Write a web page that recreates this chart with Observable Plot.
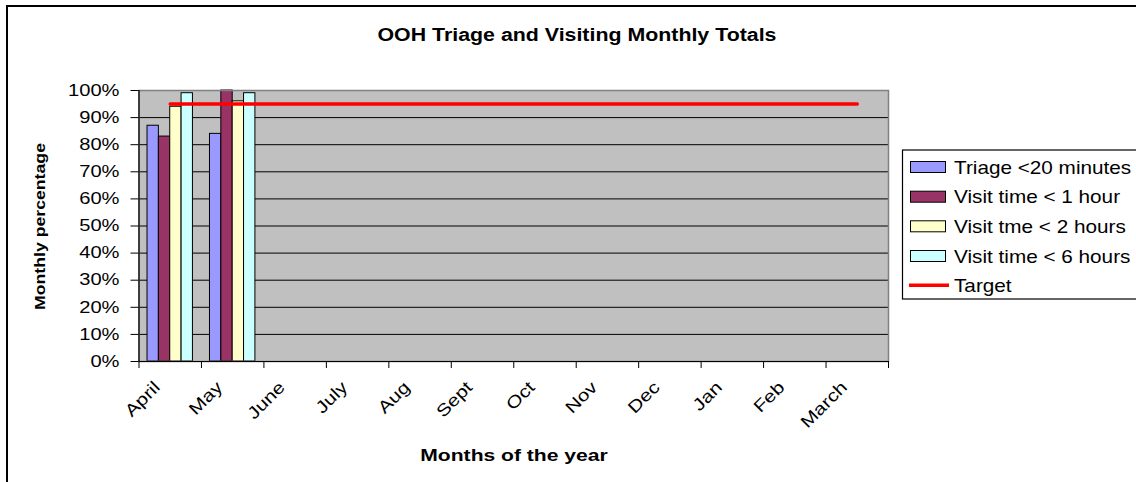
<!DOCTYPE html>
<html><head><meta charset="utf-8">
<script src="https://cdn.jsdelivr.net/npm/d3@7"></script>
<script src="https://cdn.jsdelivr.net/npm/@observablehq/plot@0.6"></script>
<style>
html,body{margin:0;padding:0;background:#fff;overflow:hidden;}
#wrap{position:relative;width:1136px;height:482px;overflow:hidden;background:#fff;}
#wrap > svg{position:absolute;left:0;top:0;}
</style></head><body><div id="wrap"></div>
<script>
// ---- data ----
const months = ["April","May","June","July","Aug","Sept","Oct","Nov","Dec","Jan","Feb","March"];
const series = ["Triage <20 minutes","Visit time < 1 hour","Visit tme < 2 hours","Visit time < 6 hours"];
const seriesColors = ["#9999FF","#993366","#FFFFCC","#CCFFFF"];
const triage20   = [87, 84, null, null, null, null, null, null, null, null, null, null];
const visit1h    = [83, 100, null, null, null, null, null, null, null, null, null, null];
const visit2h    = [94, 96, null, null, null, null, null, null, null, null, null, null];
const visit6h    = [99, 99, null, null, null, null, null, null, null, null, null, null];
const target     = [95, 95, 95, 95, 95, 95, 95, 95, 95, 95, 95, 95];
const targetLabel = "Target";
const yTicks = [0, 10, 20, 30, 40, 50, 60, 70, 80, 90, 100];
const title = "OOH Triage and Visiting Monthly Totals";
const xTitle = "Months of the year";
const yTitle = "Monthly percentage";

const seriesValues = [triage20, visit1h, visit2h, visit6h];
const bars = [];
months.forEach((m, i) => seriesValues.forEach((vals, k) => {
  if (vals[i] != null) bars.push({month: m, i, k, series: series[k], value: vals[i]});
}));
// Excel-style clustered columns: gap width 150% -> group of 4 bars + 1.5 bar gap per category
const slot = 5.5;
const monthIdx = months.map((_, i) => i);
const boundaries = monthIdx.concat([months.length]);
const centers = monthIdx.map(i => i + 0.5);

const FONT = "'Liberation Sans', Arial, Helvetica, sans-serif";

const chart = Plot.plot({
  width: 900, height: 482,
  marginLeft: 138.5, marginRight: 12, marginTop: 90, marginBottom: 121,
  x: {domain: [0, months.length], axis: null},
  y: {domain: [0, 100], axis: null},
  color: {domain: series, range: seriesColors},
  style: {fontFamily: FONT, fontSize: "16px", color: "#000", background: "transparent", overflow: "visible"},
  marks: [
    Plot.frame({fill: "#C0C0C0"}),
    Plot.ruleY(yTicks.filter(t => t > 0 && t < 100), {stroke: "#000", strokeWidth: 1}),
    Plot.rect(bars, {
      x1: d => d.i + (0.75 + d.k) / slot,
      x2: d => d.i + (1.75 + d.k) / slot,
      y1: 0, y2: "value", fill: "series", stroke: "#000", strokeWidth: 1
    }),
    Plot.lineY(target, {x: (d, i) => i + 0.5, y: d => d, stroke: "#FF0000", strokeWidth: 3.5}),
    Plot.frame({stroke: "#808080", strokeWidth: 1.5}),
    Plot.ruleX([0], {stroke: "#000", strokeWidth: 1.2}),
    Plot.ruleY([0], {stroke: "#000", strokeWidth: 1.2}),
    Plot.axisY({ticks: yTicks, tickFormat: d => d + "%", tickSize: 8, tickPadding: 11.5, label: null, fontSize: 16.5}),
    Plot.axisX({ticks: boundaries, tickSize: 7, tickFormat: () => "", label: null}),
    Plot.axisX({ticks: centers, tickSize: 0, tickPadding: 14, dx: -13, dy: 9, tickFormat: d => months[Math.floor(d)], tickRotate: -45, label: null, fontSize: 17})
  ]
});
const wrap = document.getElementById("wrap");
wrap.appendChild(chart);

function stretch(el, f) {
  const L = el.getComputedTextLength();
  el.setAttribute("textLength", (L * f).toFixed(2));
  el.setAttribute("lengthAdjust", "spacingAndGlyphs");
}
chart.querySelectorAll("text").forEach(t => stretch(t, 1.22));

// ---- overlay: outer border, title, axis titles, legend ----
const svg = d3.select(wrap).append("svg")
  .attr("width", 1136).attr("height", 482)
  .style("pointer-events", "none")
  .attr("font-family", FONT);

svg.append("path").attr("d", "M7,482V6H1136").attr("fill", "none").attr("stroke", "#000").attr("stroke-width", 2);

const tTitle = svg.append("text").attr("x", 577).attr("y", 41).attr("text-anchor", "middle")
  .attr("font-weight", "bold").attr("font-size", 17.5).text(title);
stretch(tTitle.node(), 1.22);

const tX = svg.append("text").attr("x", 514).attr("y", 461).attr("text-anchor", "middle")
  .attr("font-weight", "bold").attr("font-size", 17).text(xTitle);
stretch(tX.node(), 1.24);

const tY = svg.append("text").attr("transform", "translate(44.5,226.5) rotate(-90)").attr("text-anchor", "middle")
  .attr("font-weight", "bold").attr("font-size", 15.5).text(yTitle);
stretch(tY.node(), 1.14);

// legend
svg.append("rect").attr("x", 902.5).attr("y", 150).attr("width", 300).attr("height", 149)
  .attr("fill", "#fff").attr("stroke", "#000").attr("stroke-width", 1.2);
const rowY = [167, 196.7, 226.3, 256, 285.3];
series.forEach((s, k) => {
  svg.append("rect").attr("x", 910.5).attr("y", rowY[k] - 5.5).attr("width", 35).attr("height", 11)
    .attr("fill", seriesColors[k]).attr("stroke", "#000").attr("stroke-width", 1);
  const t = svg.append("text").attr("x", 954).attr("y", rowY[k] + 6.6).attr("font-size", 18.5).text(s);
  stretch(t.node(), 1.12);
});
svg.append("line").attr("x1", 909).attr("x2", 949).attr("y1", rowY[4]).attr("y2", rowY[4])
  .attr("stroke", "#FF0000").attr("stroke-width", 3.5);
const tt = svg.append("text").attr("x", 954).attr("y", rowY[4] + 6.6).attr("font-size", 18.5).text(targetLabel);
stretch(tt.node(), 1.12);
</script></body></html>
